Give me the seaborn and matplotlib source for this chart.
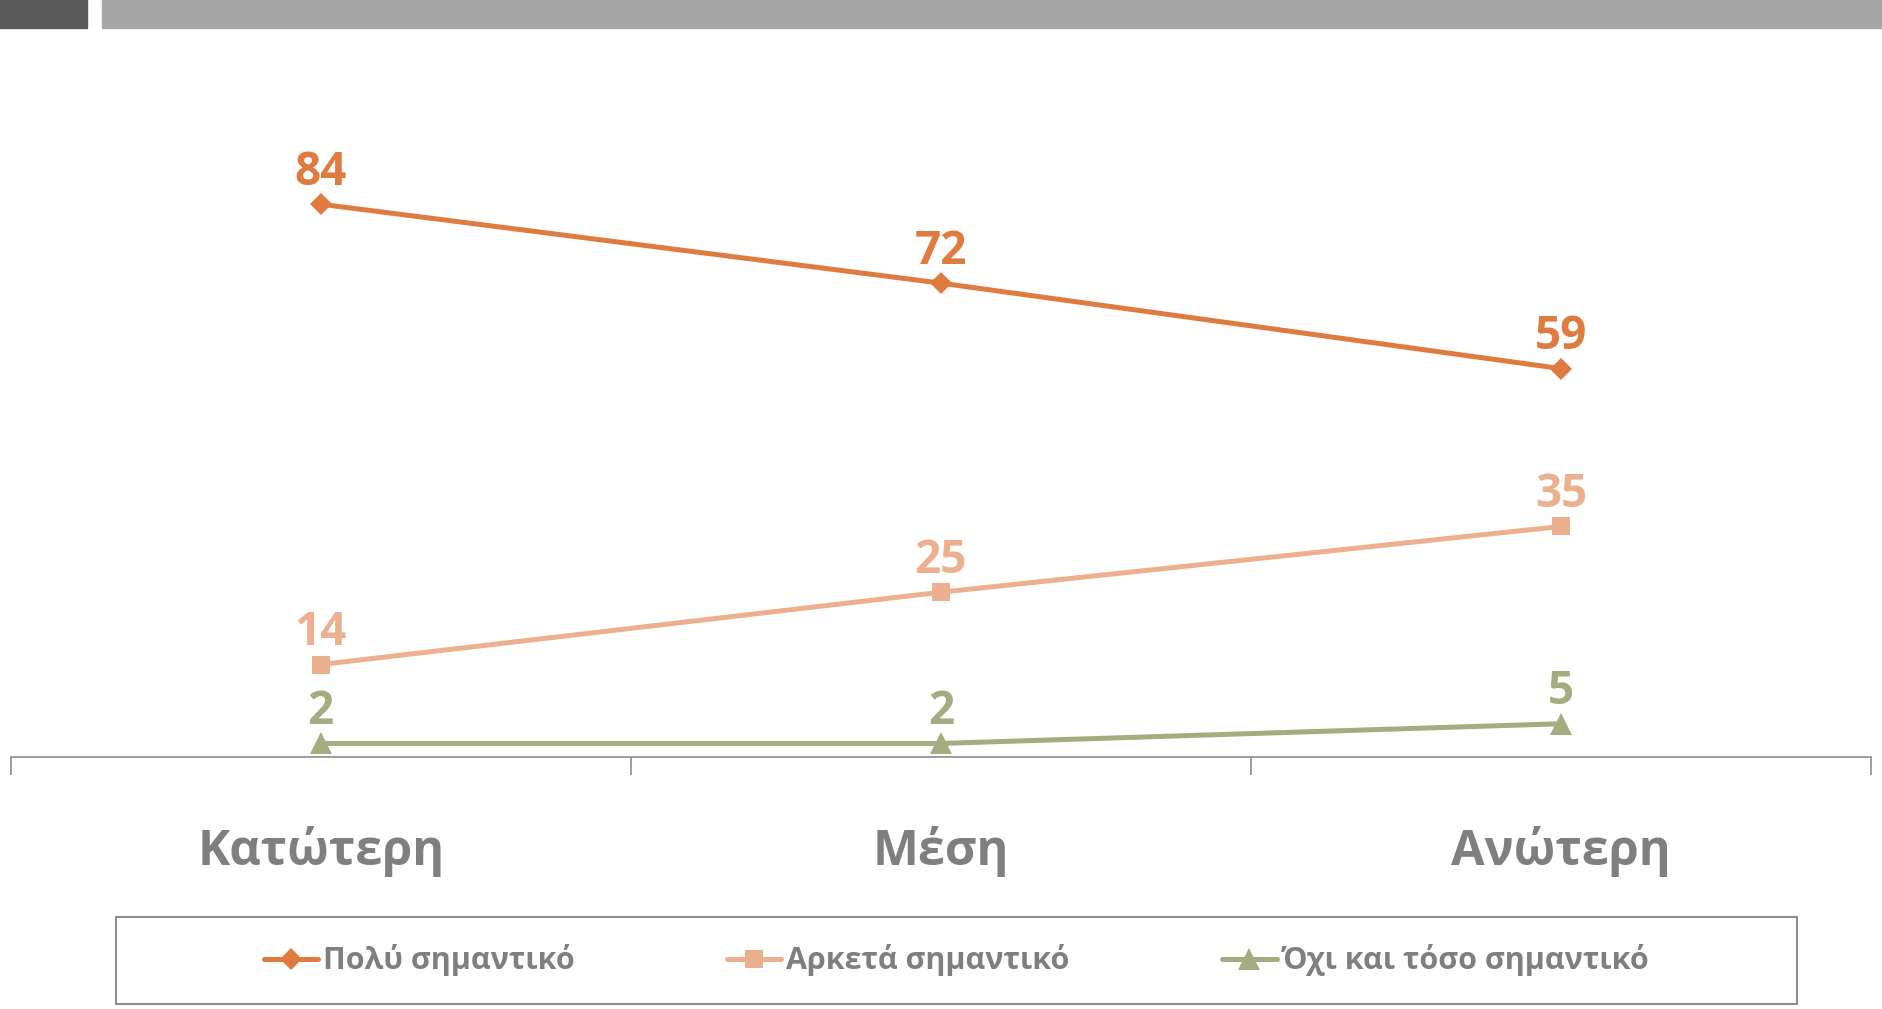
import pandas as pd
import matplotlib.pyplot as plt
import seaborn as sns
from matplotlib.patches import Rectangle
from matplotlib.lines import Line2D

# data
levels = ['Κατώτερη', 'Μέση', 'Ανώτερη']
series_names = ['Πολύ σημαντικό', 'Αρκετά σημαντικό', 'Όχι και τόσο σημαντικό']
very = [84, 72, 59]
quite = [14, 25, 35]
not_so = [2, 2, 5]

colors = ['#E07B3F', '#EDB08E', '#A5AD80']
markers = ['D', 's', '^']
msizes = [11, 13, 16]
gray_text = '#7F7F7F'

df = pd.DataFrame({
    'level': levels * 3,
    'value': very + quite + not_so,
    'series': [s for s in series_names for _ in levels],
})

sns.set_style('white')
plt.rcParams['font.family'] = ['Open Sans', 'DejaVu Sans']

W, H = 1883, 1009
fig = plt.figure(figsize=(W / 100, H / 100), dpi=100)
ax = fig.add_axes([10.8 / W, 252.4 / H, (1871 - 10.8) / W, 657.6 / H])

for name, c, m, ms in zip(series_names, colors, markers, msizes):
    sub = df[df['series'] == name]
    sns.lineplot(data=sub, x='level', y='value', color=c, marker=m,
                 markersize=ms, markeredgewidth=0, linewidth=3.6,
                 sort=False, legend=False, ax=ax, clip_on=False)
    for i, v in enumerate(sub['value']):
        ax.annotate(str(v), (i, v), xytext=(0, 23), textcoords='offset points',
                    ha='center', va='center', fontsize=33, fontweight='bold',
                    color=c)

ax.set_ylim(0, 100)
ax.set_xlim(-0.5, 2.5)
ax.set_xlabel('')
ax.set_ylabel('')
ax.set_yticks([])
for s in ['top', 'left', 'right']:
    ax.spines[s].set_visible(False)
ax.spines['bottom'].set_color('#8C8C8C')
ax.spines['bottom'].set_linewidth(1.2)

ax.set_xticks([0, 1, 2])
ax.set_xticklabels(levels, fontsize=35, fontweight='bold', color=gray_text)
ax.tick_params(axis='x', which='major', length=0, pad=50)
ax.set_xticks([-0.5, 0.5, 1.5, 2.5], minor=True)
ax.tick_params(axis='x', which='minor', bottom=True, length=13, width=1.2,
               color='#8C8C8C', direction='out')

# header bars
fig.patches.append(Rectangle((0, 1 - 28 / H), 87 / W, 28 / H,
                             transform=fig.transFigure, color='#595959'))
fig.patches.append(Rectangle((102 / W, 1 - 28 / H), (W - 102) / W, 28 / H,
                             transform=fig.transFigure, color='#A6A6A6'))

# legend box
fig.patches.append(Rectangle((116 / W, 1 - 1004 / H), (1797 - 116) / W, 87 / H,
                             transform=fig.transFigure, fill=False,
                             edgecolor='#8F8F8F', linewidth=1.5))

handles = [Line2D([], [], color=c, marker=m, markersize=ms,
                  markeredgewidth=0, linewidth=3.6)
           for c, m, ms in zip(colors, markers, msizes)]
fig.legend(handles, series_names, loc='center',
           bbox_to_anchor=((116 + 1797) / 2 / W, 1 - 960.5 / H),
           ncol=3, frameon=False, prop={'size': 22, 'weight': 'bold'},
           labelcolor=gray_text, columnspacing=5.0, handlelength=1.77,
           handletextpad=0.16)

fig.savefig('out.png', dpi=100)
